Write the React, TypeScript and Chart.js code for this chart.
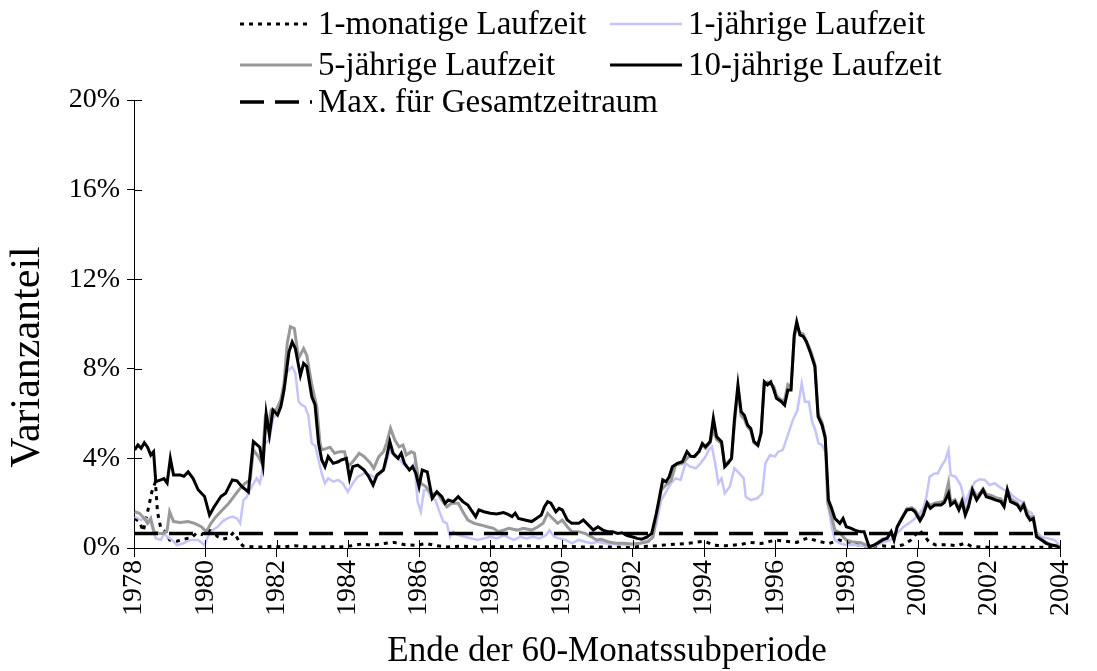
import React, { useEffect, useRef } from 'react';
import { Chart, registerables } from 'chart.js';

Chart.register(...registerables);

const W = 1097;
const H = 671;

// x axis ticks (end year of the 60-month sub-period)
const yearTicks = [1978, 1980, 1982, 1984, 1986, 1988, 1990, 1992, 1994, 1996, 1998, 2000, 2002, 2004];
// y axis ticks (percent)
const pctTicks = [0, 4, 8, 12, 16, 20];

const seriesNames = [
  '1-monatige Laufzeit',
  '1-jährige Laufzeit',
  '5-jährige Laufzeit',
  '10-jährige Laufzeit',
  'Max. für Gesamtzeitraum',
];

// [year, share in %]
const oneMonth: [number, number][] = [
  [1978.02, 1.32], [1978.15, 1.18], [1978.26, 0.75], [1978.38, 1.6], [1978.5, 2.5], [1978.6, 2.95], [1978.66, 1.6],
  [1978.75, 0.9], [1978.9, 0.7], [1979.0, 0.36], [1979.2, 0.3], [1979.4, 0.4], [1979.6, 0.45], [1979.75, 0.65],
  [1979.9, 0.6], [1980.05, 0.8], [1980.2, 0.75], [1980.35, 0.5], [1980.5, 0.4], [1980.65, 0.45], [1980.8, 0.7],
  [1980.95, 0.3], [1981.05, 0.1], [1981.3, 0.06], [1981.6, 0.04], [1981.9, 0.08], [1982.2, 0.05], [1982.5, 0.1],
  [1982.8, 0.06], [1983.1, 0.04], [1983.5, 0.06], [1983.8, 0.05], [1984.1, 0.1], [1984.4, 0.18], [1984.7, 0.12],
  [1985.0, 0.2], [1985.3, 0.25], [1985.6, 0.15], [1985.9, 0.12], [1986.2, 0.2], [1986.5, 0.1], [1986.8, 0.05],
  [1987.2, 0.08], [1987.6, 0.04], [1988.0, 0.06], [1988.5, 0.05], [1989.0, 0.1], [1989.5, 0.05], [1990.0, 0.08],
  [1990.5, 0.05], [1991.0, 0.05], [1991.5, 0.04], [1992.0, 0.06], [1992.5, 0.08], [1993.0, 0.15], [1993.5, 0.2],
  [1994.0, 0.3], [1994.3, 0.12], [1994.6, 0.1], [1995.0, 0.15], [1995.3, 0.25], [1995.6, 0.2], [1996.0, 0.35],
  [1996.3, 0.3], [1996.6, 0.25], [1996.9, 0.45], [1997.2, 0.3], [1997.5, 0.2], [1997.8, 0.35], [1998.1, 0.25],
  [1998.4, 0.1], [1998.7, 0.08], [1999.0, 0.1], [1999.3, 0.05], [1999.6, 0.15], [1999.8, 0.35], [2000.05, 0.8],
  [2000.2, 0.5], [2000.3, 0.3], [2000.5, 0.13], [2000.8, 0.15], [2001.1, 0.1], [2001.33, 0.22], [2001.5, 0.08],
  [2001.8, 0.04], [2002.2, 0.03], [2002.8, 0.03], [2003.4, 0.03], [2004.0, 0.02],
];

const oneYear: [number, number][] = [
  [1978.02, 1.4], [1978.2, 1.25], [1978.33, 1.32], [1978.47, 1.1], [1978.61, 0.43], [1978.75, 0.36], [1978.84, 0.65],
  [1978.93, 0.5], [1979.07, 0.36], [1979.2, 0.13], [1979.39, 0.21], [1979.57, 0.36], [1979.8, 0.36], [1979.98, 0.13],
  [1980.07, 0.5], [1980.21, 0.8], [1980.35, 0.95], [1980.48, 1.18], [1980.62, 1.32], [1980.76, 1.4], [1980.89, 1.32],
  [1980.98, 1.1], [1981.07, 2.14], [1981.17, 2.29], [1981.3, 2.74], [1981.44, 3.11], [1981.53, 2.89], [1981.58, 3.26],
  [1981.67, 4.67], [1981.8, 4.82], [1981.9, 5.79], [1982.03, 6.01], [1982.17, 6.61], [1982.3, 7.87], [1982.44, 8.1],
  [1982.53, 7.8], [1982.62, 6.53], [1982.71, 6.38], [1982.8, 6.31], [1982.89, 5.93], [1982.99, 4.67], [1983.09, 4.55],
  [1983.18, 3.93], [1983.27, 3.33], [1983.36, 2.89], [1983.45, 3.11], [1983.59, 2.96], [1983.73, 3.04], [1983.86, 2.89],
  [1984.0, 2.51], [1984.14, 2.89], [1984.28, 3.18], [1984.46, 3.33], [1984.64, 3.26], [1984.78, 3.11], [1984.91, 3.33],
  [1985.05, 3.63], [1985.18, 4.38], [1985.32, 4.08], [1985.46, 3.93], [1985.59, 3.7], [1985.73, 3.48], [1985.87, 3.78],
  [1985.96, 2.07], [1986.05, 1.62], [1986.14, 2.59], [1986.23, 2.59], [1986.32, 2.29], [1986.46, 2.14], [1986.59, 1.55],
  [1986.68, 1.18], [1986.78, 1.1], [1986.87, 0.5], [1986.96, 0.73], [1987.1, 0.58], [1987.28, 0.5], [1987.46, 0.43],
  [1987.64, 0.36], [1987.82, 0.43], [1988.0, 0.5], [1988.18, 0.43], [1988.37, 0.55], [1988.47, 0.5], [1988.66, 0.36],
  [1988.84, 0.5], [1989.02, 0.43], [1989.2, 0.5], [1989.38, 0.43], [1989.57, 0.58], [1989.66, 0.8], [1989.79, 0.5],
  [1989.93, 0.43], [1990.11, 0.36], [1990.29, 0.21], [1990.48, 0.36], [1990.66, 0.28], [1990.84, 0.21], [1991.02, 0.28],
  [1991.2, 0.21], [1991.43, 0.18], [1991.66, 0.16], [1991.89, 0.13], [1992.12, 0.18], [1992.34, 0.28], [1992.53, 0.43],
  [1992.66, 1.1], [1992.8, 2.14], [1992.93, 2.51], [1993.07, 2.89], [1993.2, 3.11], [1993.34, 3.04], [1993.48, 3.78],
  [1993.61, 3.63], [1993.77, 3.56], [1993.9, 3.78], [1994.04, 4.08], [1994.13, 4.38], [1994.22, 4.52], [1994.31, 3.78],
  [1994.4, 2.89], [1994.49, 3.11], [1994.58, 2.44], [1994.72, 2.74], [1994.85, 3.56], [1994.99, 3.33], [1995.11, 3.11],
  [1995.17, 2.29], [1995.31, 2.14], [1995.49, 2.22], [1995.63, 2.44], [1995.72, 3.78], [1995.85, 4.15], [1995.99, 4.08],
  [1996.08, 4.3], [1996.21, 4.38], [1996.35, 5.04], [1996.49, 5.71], [1996.62, 6.16], [1996.74, 7.35], [1996.83, 6.53],
  [1996.94, 6.53], [1997.03, 5.64], [1997.12, 5.27], [1997.21, 4.67], [1997.31, 4.6], [1997.42, 4.23], [1997.49, 1.84],
  [1997.58, 0.95], [1997.67, 0.36], [1997.81, 0.21], [1997.99, 0.13], [1998.22, 0.13], [1998.49, 0.09], [1998.68, 0.03],
  [1998.96, 0.21], [1999.24, 0.36], [1999.42, 0.65], [1999.6, 0.95], [1999.74, 1.1], [1999.87, 1.25], [2000.01, 1.47],
  [2000.15, 1.77], [2000.24, 2.29], [2000.33, 3.18], [2000.47, 3.33], [2000.56, 3.33], [2000.65, 3.63], [2000.77, 3.93],
  [2000.86, 4.38], [2000.92, 3.26], [2001.06, 3.18], [2001.2, 2.81], [2001.33, 2.0], [2001.47, 2.59], [2001.61, 2.96],
  [2001.74, 3.07], [2001.88, 3.04], [2002.01, 2.81], [2002.15, 2.89], [2002.28, 2.74], [2002.42, 2.59], [2002.56, 2.51],
  [2002.69, 2.29], [2002.83, 2.14], [2002.92, 2.07], [2003.06, 1.7], [2003.2, 1.55], [2003.33, 0.73], [2003.47, 0.5],
  [2003.65, 0.43], [2003.83, 0.36], [2003.97, 0.13],
];

const fiveYear: [number, number][] = [
  [1978.02, 1.62], [1978.15, 1.55], [1978.29, 1.32], [1978.38, 1.1], [1978.47, 1.32], [1978.56, 0.73], [1978.7, 0.65],
  [1978.84, 0.65], [1978.93, 0.8], [1979.0, 1.62], [1979.11, 1.18], [1979.3, 1.14], [1979.52, 1.18], [1979.7, 1.1],
  [1979.89, 0.95], [1980.03, 0.73], [1980.16, 1.1], [1980.3, 1.4], [1980.48, 1.7], [1980.66, 2.0], [1980.8, 2.29],
  [1980.94, 2.59], [1981.12, 2.89], [1981.26, 3.04], [1981.35, 4.38], [1981.49, 4.08], [1981.59, 3.78], [1981.68, 5.71],
  [1981.76, 5.34], [1981.85, 6.16], [1981.99, 6.16], [1982.12, 6.61], [1982.21, 7.35], [1982.3, 9.13], [1982.39, 9.88],
  [1982.5, 9.8], [1982.62, 8.47], [1982.76, 8.9], [1982.85, 8.6], [1982.99, 7.28], [1983.13, 6.31], [1983.22, 4.67],
  [1983.27, 4.38], [1983.41, 4.45], [1983.5, 4.5], [1983.63, 4.23], [1983.77, 4.3], [1983.91, 4.3], [1984.0, 3.63],
  [1984.14, 3.85], [1984.32, 4.23], [1984.46, 4.08], [1984.64, 3.78], [1984.73, 3.56], [1984.87, 4.08], [1985.0, 4.3],
  [1985.09, 4.67], [1985.2, 5.34], [1985.32, 4.82], [1985.44, 4.52], [1985.55, 4.6], [1985.64, 4.15], [1985.78, 4.3],
  [1985.87, 4.23], [1985.96, 3.33], [1986.05, 2.89], [1986.19, 2.74], [1986.37, 2.37], [1986.5, 2.51], [1986.64, 2.14],
  [1986.78, 1.84], [1986.91, 2.0], [1987.1, 2.0], [1987.23, 1.62], [1987.37, 1.25], [1987.55, 1.1], [1987.73, 1.03],
  [1987.91, 0.95], [1988.09, 0.88], [1988.23, 0.73], [1988.37, 0.8], [1988.52, 0.88], [1988.75, 0.8], [1988.93, 0.88],
  [1989.16, 0.8], [1989.34, 0.95], [1989.48, 1.1], [1989.61, 1.55], [1989.75, 1.32], [1989.89, 1.1], [1990.02, 1.25],
  [1990.16, 0.95], [1990.29, 0.73], [1990.48, 0.73], [1990.66, 0.65], [1990.84, 0.5], [1990.98, 0.36], [1991.11, 0.39],
  [1991.3, 0.28], [1991.52, 0.21], [1991.75, 0.21], [1991.98, 0.18], [1992.21, 0.21], [1992.43, 0.28], [1992.57, 0.5],
  [1992.66, 1.4], [1992.8, 2.59], [1992.93, 2.81], [1993.07, 3.0], [1993.2, 3.7], [1993.39, 3.78], [1993.57, 4.08],
  [1993.75, 4.08], [1993.86, 4.35], [1993.95, 4.6], [1994.04, 4.45], [1994.17, 4.7], [1994.26, 5.3], [1994.35, 4.85],
  [1994.49, 4.65], [1994.58, 3.7], [1994.67, 3.85], [1994.77, 4.0], [1994.85, 5.5], [1994.95, 7.1], [1995.04, 5.9],
  [1995.13, 5.75], [1995.22, 5.4], [1995.31, 5.25], [1995.4, 4.7], [1995.51, 4.55], [1995.6, 5.2], [1995.69, 7.35],
  [1995.78, 7.4], [1995.87, 7.3], [1995.96, 7.2], [1996.03, 6.8], [1996.17, 6.6], [1996.26, 6.6], [1996.35, 7.3],
  [1996.44, 7.2], [1996.53, 9.4], [1996.6, 9.9], [1996.69, 9.6], [1996.78, 9.55], [1996.87, 9.25], [1996.99, 8.8],
  [1997.11, 8.2], [1997.2, 6.0], [1997.31, 5.6], [1997.4, 5.0], [1997.47, 2.0], [1997.58, 1.4], [1997.67, 0.8],
  [1997.81, 0.68], [1997.9, 0.5], [1997.99, 0.36], [1998.13, 0.28], [1998.27, 0.26], [1998.4, 0.24], [1998.55, 0.13],
  [1998.69, 0.06], [1998.87, 0.25], [1999.01, 0.4], [1999.14, 0.45], [1999.25, 0.7], [1999.33, 0.4], [1999.42, 0.95],
  [1999.55, 1.35], [1999.69, 1.75], [1999.83, 1.8], [1999.92, 1.7], [2000.06, 1.3], [2000.15, 1.55], [2000.26, 2.05],
  [2000.35, 1.9], [2000.47, 2.0], [2000.65, 2.05], [2000.74, 2.1], [2000.86, 2.92], [2000.92, 2.05], [2001.04, 2.15],
  [2001.15, 1.8], [2001.24, 2.15], [2001.33, 1.6], [2001.42, 1.95], [2001.53, 2.65], [2001.65, 2.3], [2001.74, 2.45],
  [2001.83, 2.65], [2001.92, 2.4], [2002.06, 2.35], [2002.19, 2.25], [2002.33, 2.2], [2002.42, 1.95], [2002.51, 2.6],
  [2002.6, 2.2], [2002.69, 2.1], [2002.79, 2.0], [2002.88, 1.8], [2002.97, 2.0], [2003.06, 1.6], [2003.15, 1.35],
  [2003.24, 1.4], [2003.33, 0.6], [2003.47, 0.4], [2003.6, 0.25], [2003.74, 0.15], [2003.88, 0.1], [2003.97, 0.05],
];

const tenYear: [number, number][] = [
  [1978.02, 4.38], [1978.11, 4.6], [1978.2, 4.45], [1978.29, 4.7], [1978.38, 4.5], [1978.47, 4.15], [1978.55, 4.3],
  [1978.61, 2.96], [1978.75, 3.04], [1978.84, 3.1], [1978.93, 2.9], [1979.02, 4.0], [1979.11, 3.26], [1979.3, 3.26],
  [1979.4, 3.2], [1979.52, 3.4], [1979.66, 3.1], [1979.8, 2.6], [1979.98, 2.3], [1980.12, 1.47], [1980.25, 1.84],
  [1980.44, 2.3], [1980.57, 2.44], [1980.76, 3.04], [1980.89, 3.0], [1981.03, 2.74], [1981.21, 2.5], [1981.35, 4.75],
  [1981.53, 4.5], [1981.62, 3.7], [1981.71, 6.0], [1981.8, 5.05], [1981.9, 6.16], [1982.03, 5.94], [1982.12, 6.3],
  [1982.21, 7.05], [1982.35, 8.76], [1982.44, 9.2], [1982.53, 8.9], [1982.67, 7.7], [1982.76, 8.24], [1982.85, 8.1],
  [1982.99, 6.75], [1983.08, 6.4], [1983.18, 4.67], [1983.27, 3.93], [1983.36, 3.63], [1983.45, 4.08], [1983.59, 3.78],
  [1983.73, 3.85], [1983.82, 3.93], [1983.96, 4.0], [1984.05, 3.11], [1984.14, 3.63], [1984.28, 3.7], [1984.46, 3.48],
  [1984.59, 3.18], [1984.71, 2.81], [1984.82, 3.26], [1985.0, 3.48], [1985.09, 4.08], [1985.18, 4.75], [1985.27, 4.23],
  [1985.41, 4.0], [1985.5, 4.23], [1985.59, 3.78], [1985.73, 3.48], [1985.82, 3.63], [1985.91, 3.33], [1986.0, 2.74],
  [1986.09, 3.48], [1986.23, 3.4], [1986.37, 2.22], [1986.5, 2.51], [1986.64, 2.29], [1986.73, 2.0], [1986.82, 2.14],
  [1986.96, 2.07], [1987.1, 2.29], [1987.23, 2.07], [1987.37, 1.92], [1987.46, 1.7], [1987.59, 1.4], [1987.68, 1.7],
  [1987.82, 1.62], [1988.0, 1.55], [1988.18, 1.52], [1988.37, 1.58], [1988.5, 1.5], [1988.61, 1.4], [1988.7, 1.55],
  [1988.79, 1.32], [1988.97, 1.25], [1989.16, 1.18], [1989.29, 1.32], [1989.43, 1.47], [1989.52, 1.84], [1989.61, 2.07],
  [1989.7, 2.0], [1989.84, 1.62], [1989.93, 1.77], [1990.02, 1.7], [1990.16, 1.25], [1990.29, 1.1], [1990.48, 1.1],
  [1990.61, 1.25], [1990.75, 1.03], [1990.89, 0.8], [1991.02, 0.95], [1991.16, 0.8], [1991.3, 0.73], [1991.43, 0.73],
  [1991.57, 0.65], [1991.7, 0.68], [1991.84, 0.55], [1991.98, 0.5], [1992.12, 0.43], [1992.25, 0.39], [1992.39, 0.48],
  [1992.53, 0.65], [1992.66, 1.55], [1992.75, 2.29], [1992.84, 3.04], [1992.93, 2.96], [1993.02, 3.18], [1993.11, 3.63],
  [1993.25, 3.78], [1993.39, 3.85], [1993.52, 4.3], [1993.62, 4.1], [1993.72, 4.08], [1993.86, 4.3], [1993.95, 4.67],
  [1994.04, 4.52], [1994.17, 4.75], [1994.26, 5.79], [1994.35, 4.97], [1994.49, 4.75], [1994.58, 3.63], [1994.67, 3.78],
  [1994.77, 4.0], [1994.85, 5.71], [1994.95, 7.28], [1995.04, 6.08], [1995.13, 5.93], [1995.22, 5.49], [1995.31, 5.34],
  [1995.4, 4.75], [1995.51, 4.6], [1995.6, 5.12], [1995.69, 7.42], [1995.78, 7.28], [1995.87, 7.42], [1995.96, 7.05],
  [1996.03, 6.68], [1996.17, 6.53], [1996.26, 6.38], [1996.35, 7.05], [1996.44, 7.05], [1996.53, 9.51], [1996.6, 10.1],
  [1996.69, 9.51], [1996.78, 9.45], [1996.87, 9.21], [1996.99, 8.69], [1997.11, 8.1], [1997.2, 5.86], [1997.31, 5.49],
  [1997.4, 4.9], [1997.49, 2.14], [1997.58, 1.77], [1997.67, 1.32], [1997.81, 1.1], [1997.9, 1.32], [1997.99, 0.95],
  [1998.13, 0.88], [1998.27, 0.77], [1998.4, 0.73], [1998.49, 0.73], [1998.63, 0.06], [1998.77, 0.13], [1998.87, 0.21],
  [1999.01, 0.36], [1999.14, 0.43], [1999.25, 0.73], [1999.33, 0.36], [1999.42, 0.95], [1999.55, 1.32], [1999.69, 1.7],
  [1999.83, 1.73], [1999.92, 1.62], [2000.06, 1.22], [2000.15, 1.47], [2000.26, 2.0], [2000.35, 1.77], [2000.47, 1.92],
  [2000.65, 1.92], [2000.74, 2.03], [2000.86, 2.44], [2000.92, 1.92], [2001.04, 2.07], [2001.15, 1.7], [2001.24, 2.07],
  [2001.33, 1.47], [2001.42, 1.84], [2001.53, 2.59], [2001.65, 2.14], [2001.74, 2.37], [2001.83, 2.59], [2001.92, 2.29],
  [2002.06, 2.22], [2002.19, 2.14], [2002.33, 2.07], [2002.42, 1.84], [2002.51, 2.59], [2002.6, 2.07], [2002.69, 2.0],
  [2002.79, 1.92], [2002.88, 1.7], [2002.97, 1.92], [2003.06, 1.47], [2003.15, 1.25], [2003.24, 1.32], [2003.33, 0.5],
  [2003.47, 0.36], [2003.6, 0.21], [2003.74, 0.13], [2003.88, 0.09], [2003.97, 0.03],
];

// maximum for the whole period (horizontal reference)
const maxTotal: [number, number][] = [[1978, 0.65], [2004, 0.65]];

const FONT = "'Liberation Serif', 'Times New Roman', serif";

const toXY = (arr: [number, number][]) => arr.map(([x, y]) => ({ x, y }));

const styles = [
  { color: '#000000', width: 3, dash: [4, 5] },
  { color: '#c4c4fa', width: 2.5, dash: [] as number[] },
  { color: '#999999', width: 3, dash: [] as number[] },
  { color: '#000000', width: 3, dash: [] as number[] },
  { color: '#000000', width: 3.5, dash: [24, 11] },
];

const legendPlugin = {
  id: 'customLegend',
  afterDraw(chart: any) {
    const { ctx } = chart;
    const items = [
      { i: 0, x: 240, y: 24 },
      { i: 1, x: 610, y: 24 },
      { i: 2, x: 240, y: 65 },
      { i: 3, x: 610, y: 65 },
      { i: 4, x: 240, y: 102 },
    ];
    ctx.save();
    ctx.font = `33px ${FONT}`;
    ctx.fillStyle = '#000';
    ctx.textBaseline = 'middle';
    ctx.textAlign = 'left';
    for (const it of items) {
      const s = styles[it.i];
      ctx.beginPath();
      ctx.strokeStyle = s.color;
      ctx.lineWidth = s.width;
      ctx.setLineDash(s.dash);
      ctx.moveTo(it.x, it.y);
      ctx.lineTo(it.x + 72, it.y);
      ctx.stroke();
      ctx.setLineDash([]);
      ctx.fillText(seriesNames[it.i], it.x + 78, it.y + 1);
    }
    // axis titles
    ctx.font = `35px ${FONT}`;
    ctx.textAlign = 'center';
    ctx.fillText('Ende der 60-Monatssubperiode', 607, 652);
    ctx.font = `42px ${FONT}`;
    ctx.translate(28, 357);
    ctx.rotate(-Math.PI / 2);
    ctx.fillText('Varianzanteil', 0, 0);
    ctx.restore();
  },
};

const innerTicksPlugin = {
  id: 'innerTicks',
  afterDatasetsDraw(chart: any) {
    const { ctx, chartArea, scales } = chart;
    const x = scales.x;
    const y = scales.y;
    ctx.save();
    ctx.strokeStyle = '#000';
    ctx.lineWidth = 1;
    ctx.beginPath();
    for (const t of x.ticks) {
      const px = Math.round(x.getPixelForValue(t.value)) + 0.5;
      ctx.moveTo(px, chartArea.bottom);
      ctx.lineTo(px, chartArea.bottom - 8);
    }
    for (const t of y.ticks) {
      const py = Math.round(y.getPixelForValue(t.value)) + 0.5;
      ctx.moveTo(chartArea.left, py);
      ctx.lineTo(chartArea.left + 8, py);
    }
    ctx.stroke();
    ctx.restore();
  },
};

export default function App() {
  const ref = useRef<HTMLCanvasElement | null>(null);

  useEffect(() => {
    document.body.style.margin = '0';
    const canvas = ref.current;
    if (!canvas) return;
    const all = [oneMonth, oneYear, fiveYear, tenYear, maxTotal];
    const orders = [4, 3, 2, 1, 0];
    const chart = new Chart(canvas, {
      type: 'line',
      data: {
        datasets: all.map((arr, i) => ({
          label: seriesNames[i],
          data: toXY(arr),
          borderColor: styles[i].color,
          borderWidth: styles[i].width,
          borderDash: styles[i].dash,
          pointRadius: 0,
          tension: 0,
          fill: false,
          order: orders[i],
        })),
      },
      options: {
        animation: false,
        responsive: false,
        devicePixelRatio: 1,
        layout: { padding: { left: 0, right: 13, top: 100, bottom: 0 } },
        plugins: { legend: { display: false }, tooltip: { enabled: false } },
        scales: {
          x: {
            type: 'linear',
            min: 1978,
            max: 2004,
            afterBuildTicks: (scale: any) => {
              scale.ticks = yearTicks.map((v) => ({ value: v }));
            },
            afterFit: (scale: any) => {
              scale.height = 123;
            },
            grid: { display: true, drawOnChartArea: false, drawTicks: true, tickLength: 9, color: '#000', tickColor: '#000' },
            border: { display: true, color: '#000', width: 1 },
            ticks: {
              autoSkip: false,
              minRotation: 90,
              maxRotation: 90,
              padding: 3,
              color: '#000',
              font: { family: FONT, size: 28 },
              callback: (v: any) => String(v),
            },
          },
          y: {
            type: 'linear',
            min: 0,
            max: 20,
            afterBuildTicks: (scale: any) => {
              scale.ticks = pctTicks.map((v) => ({ value: v }));
            },
            afterFit: (scale: any) => {
              scale.width = 134;
            },
            grid: { display: true, drawOnChartArea: false, drawTicks: true, tickLength: 7, color: '#000', tickColor: '#000' },
            border: { display: true, color: '#000', width: 1 },
            ticks: {
              padding: 7,
              color: '#000',
              font: { family: FONT, size: 28 },
              callback: (v: any) => `${v}%`,
            },
          },
        },
      },
      plugins: [innerTicksPlugin, legendPlugin],
    });
    return () => chart.destroy();
  }, []);

  return (
    <div style={{ width: W, height: H, background: '#fff' }}>
      <canvas ref={ref} width={W} height={H} style={{ display: 'block' }} />
    </div>
  );
}
